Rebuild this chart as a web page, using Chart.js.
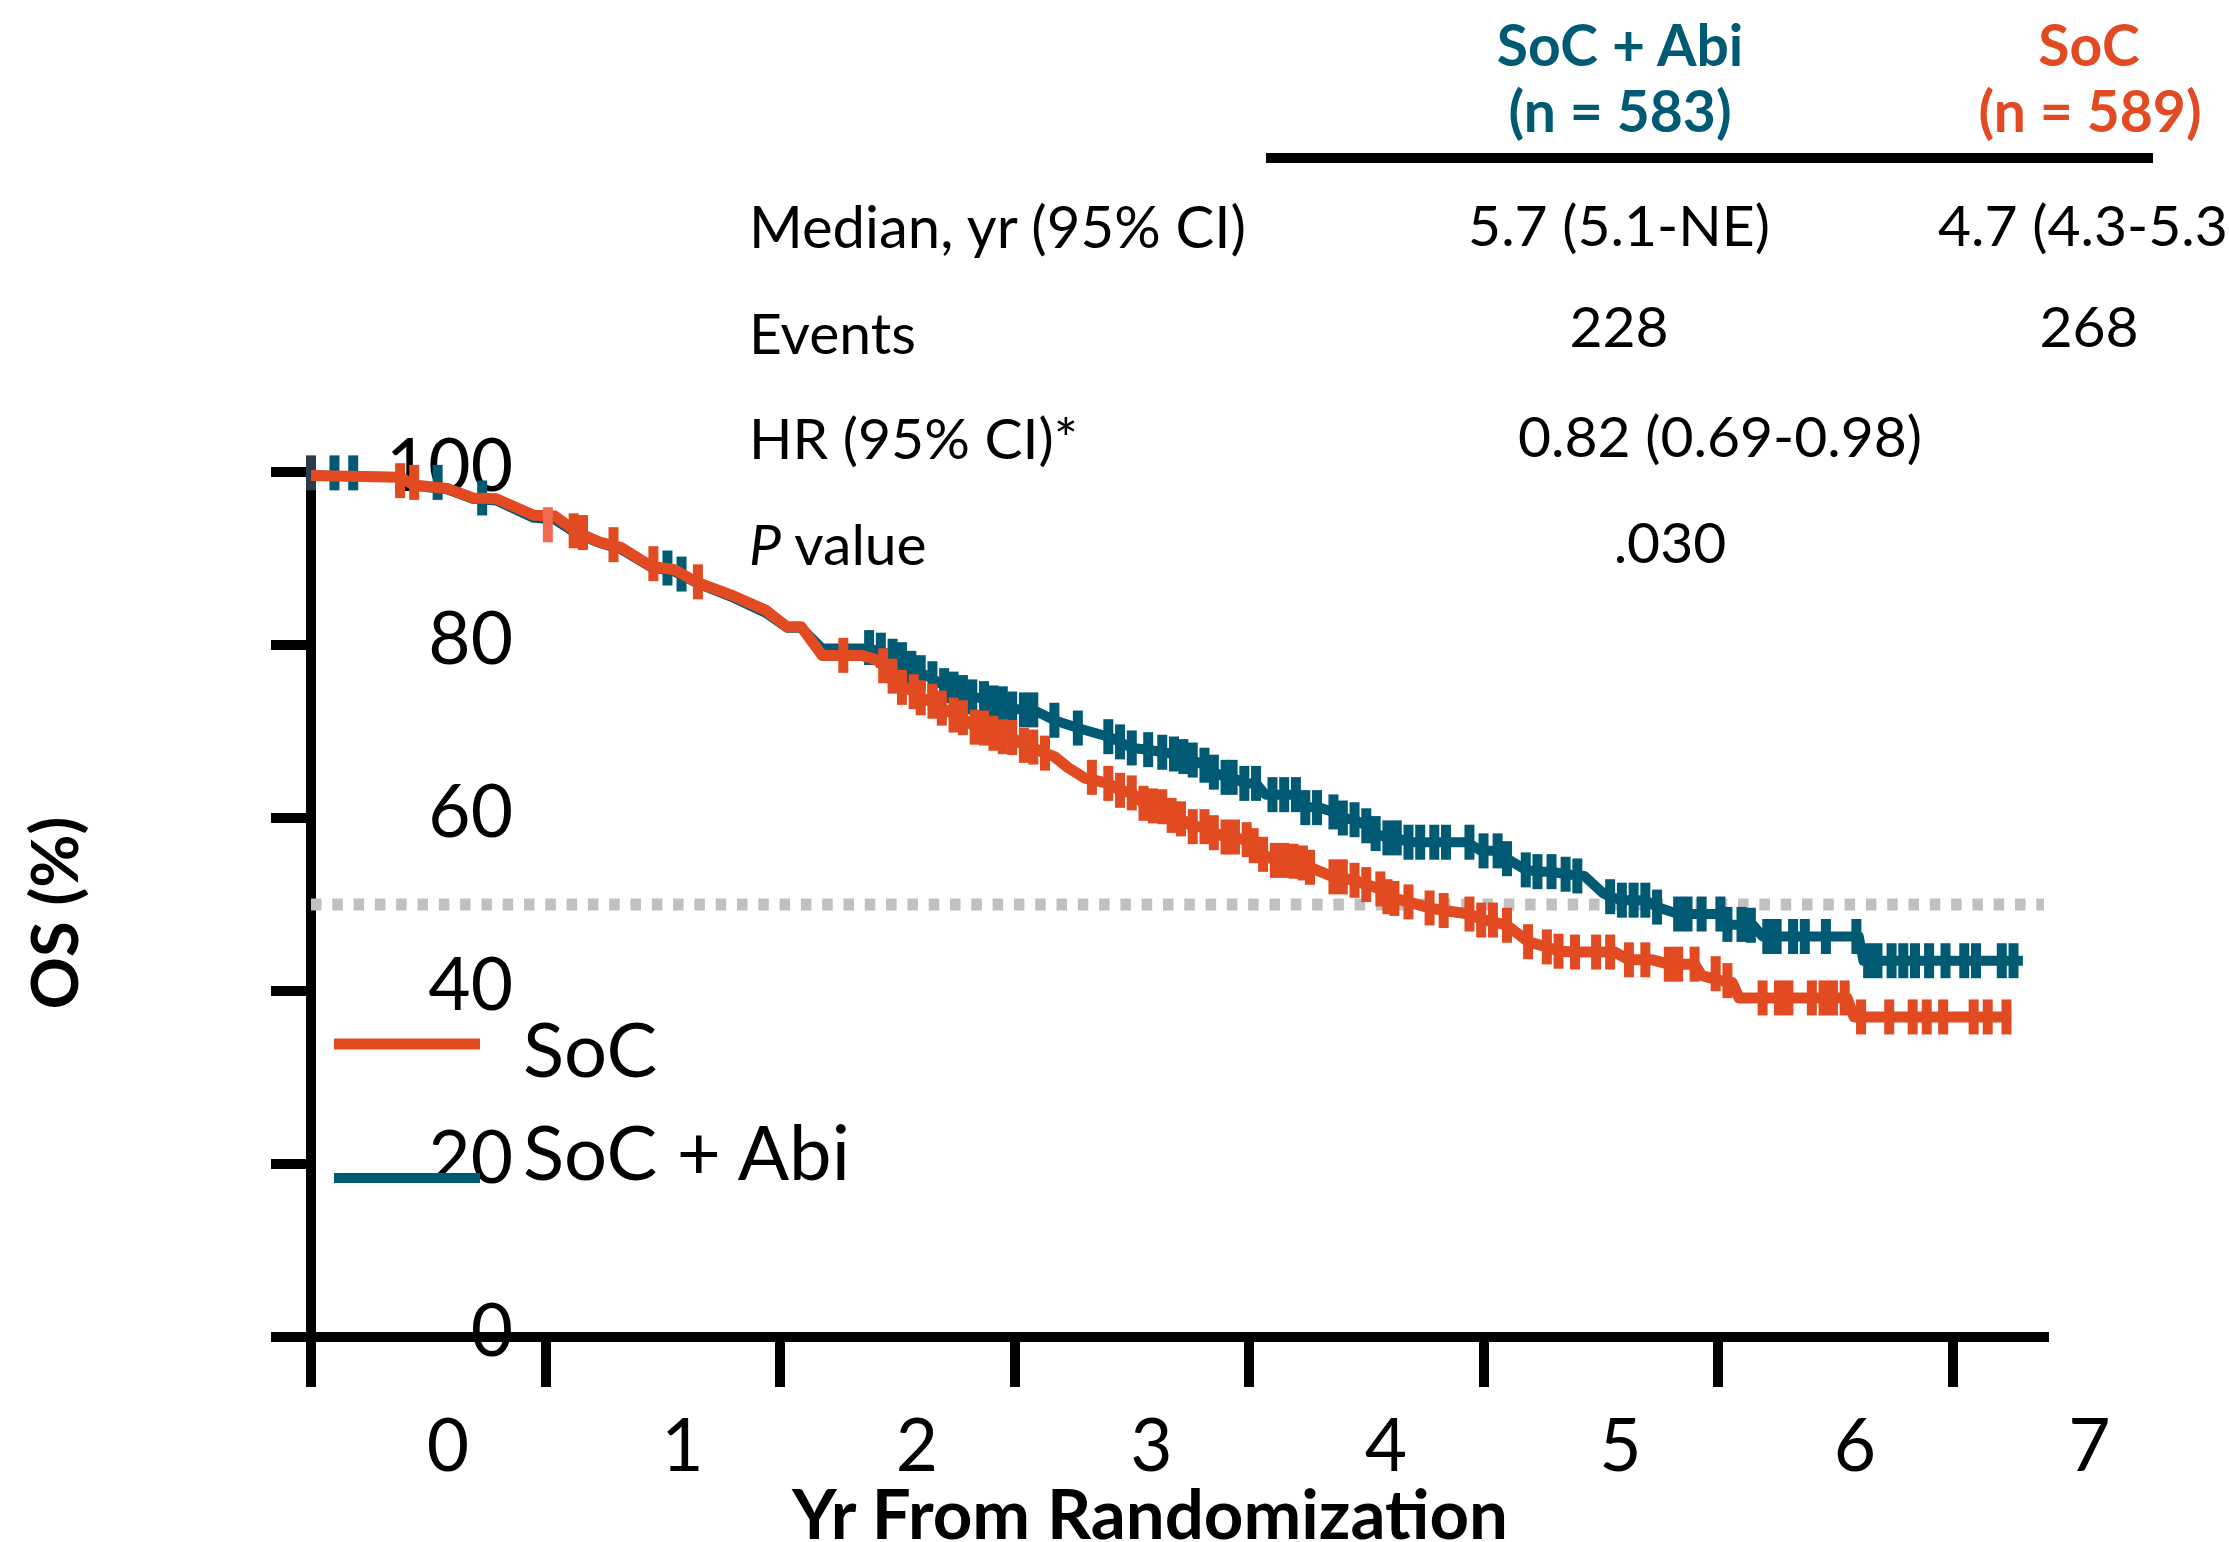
<!DOCTYPE html>
<html>
<head>
<meta charset="utf-8">
<title>OS by arm</title>
<script src="https://cdn.jsdelivr.net/npm/chart.js@4.4.1/dist/chart.umd.min.js"></script>
<style>
  html, body { margin: 0; padding: 0; background: #fff; overflow: hidden; }
  #wrap { position: relative; width: 2229px; height: 1542px; }
  #chart { position: absolute; left: 0; top: 0; }
  #notes { position: absolute; left: 0; top: 0; pointer-events: none; font-family: Lato, sans-serif; }
</style>
</head>
<body>
<div id="wrap">
  <canvas id="chart" width="2229" height="1542"></canvas>
  <svg id="notes" width="2229" height="1542" viewBox="0 0 2229 1542">
    <!-- arm headers -->
    <g font-weight="700" font-size="57" text-anchor="middle">
      <text x="1620" y="66" fill="#005A74">SoC + Abi</text>
      <text x="1620" y="132" fill="#005A74">(n = 583)</text>
      <text x="2089" y="66" fill="#E24A21">SoC</text>
      <text x="2090" y="132" fill="#E24A21">(n = 589)</text>
    </g>
    <line x1="1266" y1="158" x2="2153" y2="158" stroke="#000" stroke-width="10"/>

    <!-- summary table -->
    <g font-size="57" fill="#000">
      <text x="749" y="248" font-size="58">Median, yr (95% CI)</text>
      <text x="1619" y="246" text-anchor="middle">5.7 (5.1-NE)</text>
      <text x="1938" y="246">4.7 (4.3-5.3)</text>
      <text x="749" y="354">Events</text>
      <text x="1619" y="347" text-anchor="middle">228</text>
      <text x="2089" y="347" text-anchor="middle">268</text>
      <text x="749" y="459">HR (95% CI)*</text>
      <text x="1720" y="457" text-anchor="middle">0.82 (0.69-0.98)</text>
      <text x="749" y="565"><tspan font-style="italic">P</tspan> value</text>
      <text x="1670" y="563" text-anchor="middle">.030</text>
    </g>

    <!-- legend -->
    <line x1="334" y1="1044" x2="480" y2="1044" stroke="#E24A21" stroke-width="11"/>
    <line x1="334" y1="1178" x2="480" y2="1178" stroke="#005A74" stroke-width="10"/>
    <text x="523" y="1077" font-size="76">SoC</text>
    <text x="523" y="1180" font-size="76">SoC + Abi</text>

    <!-- axis titles -->
    <text transform="translate(78,913) rotate(-90)" text-anchor="middle" font-size="65" font-weight="700">OS (%)</text>
    <text x="1150" y="1539" text-anchor="middle" font-size="69" font-weight="700">Yr From Randomization</text>
  </svg>
</div>

<script>
"use strict";

const $ = (id) => document.getElementById(id);

// axis ticks
const yearTicks = [0, 1, 2, 3, 4, 5, 6, 7];
const osTicks = [0, 20, 40, 60, 80, 100];
const yearMax = 7.39;
const medianLevel = 50;

// SoC curve (years, % alive)
const socTime = [
  0, 0.38, 0.44, 0.58, 0.69, 0.79, 0.95, 1.04, 1.13, 1.23, 1.32, 1.45, 1.55, 1.65, 1.79, 1.94, 2.03, 2.09, 2.18, 2.35,
  2.41, 2.44, 2.48, 2.52, 2.57, 2.60, 2.65, 2.69, 2.74, 2.78, 2.83, 2.87, 2.91, 2.99, 3.04, 3.08, 3.13, 3.17, 3.23, 3.30,
  3.40, 3.45, 3.50, 3.55, 3.63, 3.67, 3.71, 3.76, 3.81, 3.85, 3.90, 3.99, 4.02, 4.06, 4.11, 4.19, 4.26, 4.36, 4.45, 4.50,
  4.56, 4.59, 4.68, 4.77, 4.83, 4.94, 4.99, 5.10, 5.19, 5.27, 5.32, 5.39, 5.56, 5.62, 5.72, 5.79, 5.90, 5.93, 6.01, 6.06,
  6.09, 6.55, 6.58, 7.25,
];
const socSurv = [
  99.6, 99.4, 98.5, 98.1, 97.0, 96.9, 95.0, 94.9, 93.1, 91.9, 91.3, 89.1, 88.7, 87.2, 85.8, 84.0, 82.1, 82.1, 78.8, 78.8,
  78.3, 77.6, 76.5, 75.3, 74.6, 73.9, 73.4, 72.7, 72.0, 71.5, 70.6, 70.3, 69.8, 69.3, 68.4, 68.1, 67.5, 67.1, 65.8, 64.6,
  64.0, 63.2, 62.9, 61.7, 61.3, 60.3, 59.9, 59.0, 59.0, 58.3, 57.8, 57.5, 56.8, 55.8, 55.1, 55.0, 54.3, 53.2, 52.8, 52.3,
  51.8, 50.9, 50.3, 49.6, 49.3, 48.9, 48.3, 47.6, 45.7, 45.1, 44.6, 44.5, 44.5, 43.6, 43.6, 43.1, 43.1, 41.8, 41.2, 41.0,
  39.2, 39.2, 37.0, 37.0,
];

// SoC censored patients
const socCensorTime = [
  0.38, 0.44, 1.01, 1.12, 1.16, 1.29, 1.46, 1.65, 2.27,
  2.44, 2.48, 2.52, 2.57, 2.60, 2.65, 2.69, 2.74, 2.78, 2.83, 2.87, 2.91, 2.95, 2.99, 3.04, 3.08, 3.13,
  3.33, 3.40, 3.45, 3.50, 3.55, 3.59, 3.63, 3.67, 3.71, 3.76, 3.81, 3.85, 3.90, 3.94, 3.99, 4.02, 4.06, 4.11, 4.15, 4.19, 4.23, 4.26,
  4.36, 4.40, 4.45, 4.50, 4.56, 4.59, 4.62, 4.68, 4.77, 4.83, 4.94, 4.99, 5.04, 5.10, 5.19, 5.27, 5.32, 5.39, 5.48, 5.54,
  5.62, 5.69, 5.79, 5.83, 5.90, 5.99, 6.04,
  6.19, 6.26, 6.30, 6.40, 6.45, 6.49, 6.54, 6.61, 6.73, 6.83, 6.89, 6.96, 7.09, 7.15, 7.23,
];
const socCensorSurv = [
  99.0, 98.8, 93.9, 93.2, 93.0, 91.6, 89.4, 87.3, 78.8,
  77.6, 76.4, 75.1, 74.6, 73.9, 73.5, 72.7, 71.9, 71.6, 70.5, 70.4, 69.8, 69.4, 69.3, 68.4, 68.2, 67.5,
  64.7, 64.0, 63.2, 62.9, 61.7, 61.4, 61.3, 60.3, 59.9, 59.0, 59.0, 58.3, 57.8, 57.8, 57.5, 56.8, 55.8, 55.1, 55.1, 55.0, 54.8, 54.3,
  53.2, 53.2, 52.8, 52.3, 51.8, 50.9, 50.7, 50.3, 49.6, 49.3, 48.9, 48.2, 48.2, 47.6, 45.7, 45.1, 44.6, 44.5, 44.5, 44.5,
  43.6, 43.6, 43.1, 43.1, 43.1, 42.0, 41.2,
  39.2, 39.2, 39.2, 39.2, 39.2, 39.2, 39.2, 37.0, 37.0, 37.0, 37.0, 37.0, 37.0, 37.0, 37.0,
];

// SoC + Abi curve
const abiTime = [
  0, 0.38, 0.44, 0.58, 0.69, 0.79, 0.95, 1.04, 1.13, 1.23, 1.32, 1.45, 1.55, 1.65, 1.79, 1.94, 2.03, 2.09, 2.18, 2.36,
  2.43, 2.48, 2.52, 2.56, 2.60, 2.65, 2.70, 2.74, 2.78, 2.82, 2.87, 2.91, 2.95, 2.99, 3.08, 3.17, 3.27, 3.40, 3.45, 3.50,
  3.57, 3.63, 3.68, 3.72, 3.76, 3.81, 3.85, 3.90, 3.93, 3.98, 4.03, 4.07, 4.20, 4.23, 4.30, 4.36, 4.40, 4.45, 4.50, 4.54,
  4.59, 4.63, 4.68, 4.93, 4.99, 5.06, 5.10, 5.18, 5.23, 5.29, 5.35, 5.43, 5.51, 5.54, 5.59, 5.69, 5.74, 5.83, 6.01, 6.04,
  6.15, 6.19, 6.60, 6.62, 7.30,
];
const abiSurv = [
  99.6, 99.4, 98.4, 98.0, 96.9, 96.7, 94.7, 94.5, 92.9, 91.8, 91.1, 89.0, 88.5, 87.1, 85.6, 83.7, 82.0, 82.0, 79.6, 79.6,
  79.3, 78.7, 78.3, 77.3, 76.8, 76.1, 75.3, 74.9, 74.5, 74.0, 73.8, 73.3, 73.2, 72.6, 72.5, 71.3, 70.4, 69.4, 68.8, 68.1,
  67.9, 67.6, 67.4, 67.1, 66.7, 66.1, 65.3, 64.7, 64.7, 64.0, 64.0, 62.7, 62.7, 61.3, 61.2, 60.7, 60.0, 59.8, 59.1, 58.2,
  57.7, 57.7, 57.2, 57.2, 56.2, 56.2, 55.3, 54.0, 53.8, 53.8, 53.5, 53.3, 51.3, 50.9, 50.5, 50.5, 49.7, 48.9, 48.9, 47.7,
  47.6, 46.3, 46.3, 43.5, 43.5,
];

// SoC + Abi censored patients
const abiCensorTime = [
  0, 0.10, 0.18, 0.54, 0.73, 1.52, 1.58,
  2.38, 2.43, 2.48, 2.52, 2.56, 2.60, 2.65, 2.70, 2.74, 2.78, 2.82, 2.87, 2.91, 2.95, 2.99, 3.04, 3.08, 3.17, 3.27,
  3.40, 3.45, 3.50, 3.57, 3.63, 3.68, 3.72, 3.76, 3.81, 3.85, 3.90, 3.93, 3.98, 4.03, 4.10, 4.15, 4.20, 4.24, 4.29,
  4.36, 4.40, 4.45, 4.50, 4.54, 4.59, 4.63, 4.68, 4.73, 4.79, 4.84, 4.94, 5.00, 5.06, 5.10, 5.18, 5.23, 5.29, 5.35, 5.40,
  5.54, 5.59, 5.64, 5.69, 5.74, 5.83, 5.87, 5.93, 6.01, 6.04, 6.10, 6.14,
  6.21, 6.25, 6.32, 6.37, 6.46, 6.59, 6.64, 6.68, 6.74, 6.79, 6.84, 6.90, 6.97, 7.05, 7.10, 7.21, 7.26,
];
const abiCensorSurv = [
  99.9, 99.9, 99.9, 98.8, 97.0, 88.9, 88.2,
  79.7, 79.4, 78.7, 78.3, 77.3, 76.8, 76.1, 75.3, 74.9, 74.5, 74.0, 73.8, 73.3, 73.2, 72.6, 72.5, 72.5, 71.3, 70.4,
  69.4, 68.8, 68.1, 67.9, 67.6, 67.4, 67.1, 66.7, 66.1, 65.3, 64.7, 64.7, 64.0, 64.0, 62.7, 62.7, 62.7, 61.2, 61.2,
  60.7, 60.0, 59.8, 59.1, 58.2, 57.7, 57.7, 57.2, 57.2, 57.2, 57.2, 57.2, 56.2, 56.2, 55.3, 54.0, 53.8, 53.8, 53.5, 53.3,
  50.9, 50.5, 50.5, 50.5, 49.7, 48.9, 48.9, 48.9, 48.9, 47.7, 47.7, 47.6,
  46.3, 46.3, 46.3, 46.3, 46.3, 46.3, 43.5, 43.5, 43.5, 43.5, 43.5, 43.5, 43.5, 43.5, 43.5, 43.5, 43.5,
];

const SOC = "#E24A21";
const SOC_PALE = "#F06B52";
const ABI = "#005A74";
const ABI_ON_AXIS = "#2C3A4A";
const FONT = "Lato";

const pts = (t, s) => t.map((v, i) => ({ x: v, y: s[i] }));

function curveSet(t, s, color, width) {
  return {
    data: pts(t, s),
    borderColor: color,
    borderWidth: width,
    borderJoinStyle: "round",
    pointRadius: 0,
    tension: 0,
    clip: false,
  };
}

function censorSet(t, s, color) {
  return {
    data: pts(t, s),
    showLine: false,
    pointStyle: "line",
    pointRotation: 90,
    pointRadius: 17.5,
    pointBorderWidth: 10,
    pointBorderColor: color,
    pointBackgroundColor: color,
    clip: false,
  };
}

new Chart($("chart"), {
  type: "line",
  data: {
    // first dataset is painted last (on top)
    datasets: [
      censorSet(socCensorTime, socCensorSurv, (c) => (c.dataIndex === 2 ? SOC_PALE : SOC)),
      curveSet(socTime, socSurv, SOC, 11),
      censorSet(abiCensorTime, abiCensorSurv, (c) => (c.dataIndex === 0 ? ABI_ON_AXIS : ABI)),
      curveSet(abiTime, abiSurv, ABI, 10),
      {
        data: pts([0, yearMax], [medianLevel, medianLevel]),
        borderColor: "#C0C0C0",
        borderWidth: 12,
        borderDash: [10.5, 10.8],
        borderCapStyle: "butt",
        pointRadius: 0,
        clip: false,
      },
    ],
  },
  options: {
    responsive: false,
    animation: false,
    events: [],
    layout: { padding: { left: 271, top: 472, right: 185, bottom: 0 } },
    plugins: { legend: { display: false }, tooltip: { enabled: false } },
    scales: {
      x: {
        type: "linear",
        min: 0,
        max: yearMax,
        afterBuildTicks: (axis) => { axis.ticks = yearTicks.map((v) => ({ value: v })); },
        // tall box so the year labels are not clipped away
        afterFit: (axis) => { axis.height = 205; },
        border: { color: "#000", width: 10 },
        grid: { drawOnChartArea: false, tickLength: 50, lineWidth: 10, tickWidth: 10, tickColor: "#000" },
        ticks: {
          autoSkip: false,
          maxRotation: 0,
          labelOffset: 137,
          padding: 17,
          color: "#000",
          font: { family: FONT, size: 73 },
        },
      },
      y: {
        min: 0,
        max: 100,
        afterBuildTicks: (axis) => { axis.ticks = osTicks.map((v) => ({ value: v })); },
        afterFit: (axis) => { axis.width = 40; },
        border: { color: "#000", width: 10 },
        grid: { drawOnChartArea: false, tickLength: 40, lineWidth: 10, tickWidth: 10, tickColor: "#000" },
        ticks: {
          mirror: true,
          crossAlign: "far",
          padding: 75,
          labelOffset: -5,
          color: "#000",
          font: { family: FONT, size: 73 },
        },
      },
    },
  },
});
</script>
</body>
</html>
